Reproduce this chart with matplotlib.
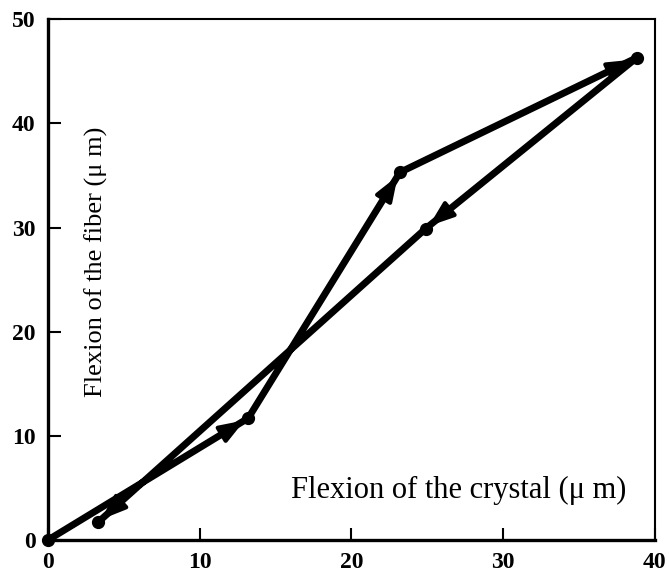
import matplotlib
matplotlib.use("Agg")
import matplotlib.pyplot as plt

# ── Data ───────────────────────────────────────
crystal = [0, 13.2, 23.2, 38.8, 24.9, 3.3]   # x, um
fiber = [0, 11.7, 35.3, 46.3, 29.9, 1.7]     # y, um
xticks = [0, 10, 20, 30, 40]
yticks = [0, 10, 20, 30, 40, 50]

plt.rcParams["font.family"] = ["Liberation Serif", "DejaVu Serif"]

fig = plt.figure(figsize=(6.69, 5.76), dpi=100)
ax = fig.add_axes([0.0717, 0.0625, 0.907, 0.904])

# ── Path with arrows ───────────────────────────
ax.plot(crystal, fiber, color="black", lw=5, solid_capstyle="round",
        solid_joinstyle="round", zorder=2)
ax.plot(crystal, fiber, "o", color="black", ms=8.5, clip_on=False, zorder=3)

for i in range(1, len(crystal)):
    x0, y0 = crystal[i - 1], fiber[i - 1]
    x1, y1 = crystal[i], fiber[i]
    ax.annotate("", xy=(x1, y1), xytext=(x0, y0),
                arrowprops=dict(arrowstyle="-|>,head_length=1.5,head_width=0.55",
                                color="black", lw=3, shrinkA=0, shrinkB=3),
                zorder=3)

# ── Axes styling ───────────────────────────────
ax.set_xlim(0, 40)
ax.set_ylim(0, 50)
ax.set_xticks(xticks)
ax.set_yticks(yticks)
ax.tick_params(direction="in", length=9, width=1.5, labelsize=17, pad=9,
               top=False, right=False)
for lab in ax.get_xticklabels() + ax.get_yticklabels():
    lab.set_fontweight("bold")
for side in ["left", "bottom"]:
    ax.spines[side].set_linewidth(2.4)
for side in ["top", "right"]:
    ax.spines[side].set_linewidth(1.5)

# axis titles sit inside the plot
ax.text(0.953, 0.095, "Flexion of the crystal (\u03bc m)", transform=ax.transAxes,
        ha="right", va="center", fontsize=22)
ax.text(0.08, 0.535, "Flexion of the fiber (\u03bc m)", transform=ax.transAxes,
        ha="center", va="center", rotation=90, fontsize=19)

plt.savefig("out.png", dpi=100)
